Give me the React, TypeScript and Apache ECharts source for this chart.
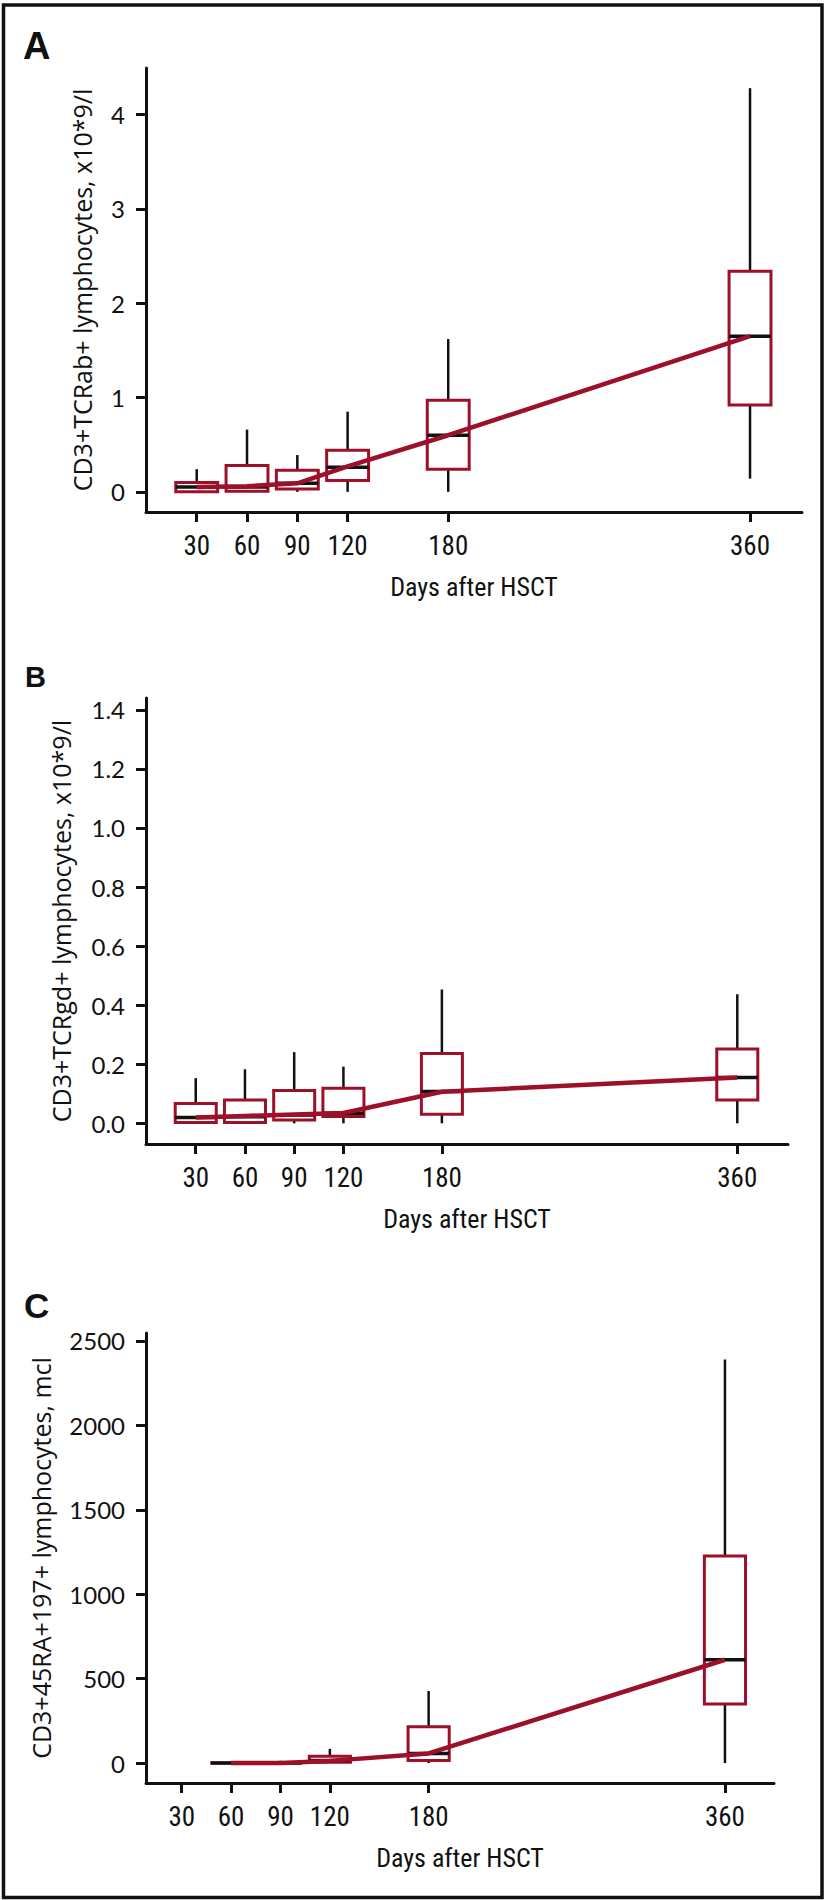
import React, { useEffect, useRef } from "react";
import * as echarts from "echarts";

// ---------- data ----------
const days = [30, 60, 90, 120, 180, 360];
const xTickValues = [30, 60, 90, 120, 180, 360];

// Panel A: CD3+TCRab+ lymphocytes, x10*9/l
const aMin = [0, 0, 0, 0, 0, 0.14];
const aQ1 = [0, 0.005, 0.03, 0.12, 0.24, 0.92];
const aMed = [0.05, 0.05, 0.09, 0.26, 0.6, 1.65];
const aQ3 = [0.1, 0.28, 0.23, 0.44, 0.97, 2.34];
const aMax = [0.24, 0.66, 0.39, 0.85, 1.62, 4.28];
const aTrend = [0.05, 0.06, 0.09, 0.27, 0.6, 1.65];
const aTicks = [0, 1, 2, 3, 4];

// Panel B: CD3+TCRgd+ lymphocytes, x10*9/l
const bMin = [0, 0, 0, 0, 0, 0];
const bQ1 = [0.003, 0.003, 0.011, 0.023, 0.031, 0.079];
const bMed = [0.02, 0.022, 0.028, 0.034, 0.108, 0.155];
const bQ3 = [0.067, 0.079, 0.111, 0.119, 0.236, 0.252];
const bMax = [0.153, 0.183, 0.241, 0.192, 0.453, 0.437];
const bTrend = [0.02, 0.025, 0.03, 0.035, 0.107, 0.155];
const bTicks = [0, 0.2, 0.4, 0.6, 0.8, 1.0, 1.2, 1.4];

// Panel C: CD3+45RA+197+ lymphocytes, mcl
const cMin = [null, 0, 0, 0, 0, 0];
const cQ1 = [null, 0, 0, 5, 15, 350];
const cMed = [null, 0, 0, 15, 57, 612];
const cQ3 = [null, 0, 3, 40, 215, 1227];
const cMax = [null, 0, 14, 84, 427, 2390];
const cTrend = [null, 0, 0, 13, 57, 612];
const cTicks = [0, 500, 1000, 1500, 2000, 2500];

const panelLetters = ["A", "B", "C"];
const yTitles = [
  "CD3+TCRab+ lymphocytes, x10*9/l",
  "CD3+TCRgd+ lymphocytes, x10*9/l",
  "CD3+45RA+197+ lymphocytes, mcl",
];
const xTitle = "Days after HSCT";

// ---------- styles ----------
const RED = "#9C1029";
const BLACK = "#111111";
const NARROW = "'Liberation Sans Narrow', 'Roboto Condensed', 'DejaVu Sans Condensed', 'Liberation Sans', sans-serif";
const LABELFONT = "Lato, 'Liberation Sans', sans-serif";
const TITLEFONT = "'Open Sans', Lato, sans-serif";

const boxRows = (mn: any[], q1: any[], md: any[], q3: any[], mx: any[]) =>
  days
    .map((d, i) => [d, mn[i], q1[i], md[i], q3[i], mx[i]])
    .filter((r) => r[1] !== null);

const trendRows = (t: any[]) =>
  days.map((d, i) => [d, t[i]]).filter((r) => r[1] !== null);

const HALF = 12.5;

const renderBox = (params: any, api: any) => {
  const x = api.value(0);
  const mn = api.value(1);
  const q1 = api.value(2);
  const md = api.value(3);
  const q3 = api.value(4);
  const mx = api.value(5);
  const pMin = api.coord([x, mn]);
  const pQ1 = api.coord([x, q1]);
  const pQ3 = api.coord([x, q3]);
  const pMax = api.coord([x, mx]);
  const tl = api.coord([x - HALF, q3]);
  const br = api.coord([x + HALF, q1]);
  const mL = api.coord([x - HALF, md]);
  const mR = api.coord([x + HALF, md]);
  return {
    type: "group",
    children: [
      {
        type: "line",
        shape: { x1: pQ3[0], y1: pQ3[1], x2: pMax[0], y2: pMax[1] },
        style: { stroke: BLACK, lineWidth: 2.5 },
      },
      {
        type: "line",
        shape: { x1: pMin[0], y1: pMin[1], x2: pQ1[0], y2: pQ1[1] },
        style: { stroke: BLACK, lineWidth: 2.5 },
      },
      {
        type: "rect",
        shape: { x: tl[0], y: tl[1], width: br[0] - tl[0], height: br[1] - tl[1] },
        style: { fill: "#ffffff", stroke: RED, lineWidth: 3 },
      },
      {
        type: "line",
        shape: { x1: mL[0], y1: mL[1], x2: mR[0], y2: mR[1] },
        style: { stroke: BLACK, lineWidth: 3.5 },
      },
    ],
  };
};

const grids = [
  { left: 146, top: 68, width: 656, height: 444 },
  { left: 146, top: 698, width: 642, height: 446 },
  { left: 146, top: 1333, width: 628, height: 450 },
];
const xRanges = [
  [-0.25, 391],
  [-0.3, 390.9],
  [8.3, 389.8],
];
const yRanges = [
  [-0.214, 4.494],
  [-0.07, 1.44],
  [-118, 2547],
];
const yTickSets = [aTicks, bTicks, cTicks];
const yNameGaps = [52, 73, 93];
const yFormatters = [
  (v: number) => String(Math.round(v)),
  (v: number) => v.toFixed(1),
  (v: number) => String(Math.round(v)),
];
const letterPos = [
  { x: 23, y: 45.5, size: 38 },
  { x: 25, y: 676.5, size: 29 },
  { x: 24, y: 1305.5, size: 35 },
];

export default function App() {
  const ref = useRef<HTMLDivElement>(null);
  useEffect(() => {
    if (!ref.current) return;
    const chart = echarts.init(ref.current, undefined, { renderer: "svg" });

    const xAxis = grids.map((_, i) => ({
      type: "value",
      gridIndex: i,
      min: xRanges[i][0],
      max: xRanges[i][1],
      name: xTitle,
      nameLocation: "middle",
      nameGap: 62,
      nameTextStyle: { fontFamily: NARROW, fontSize: 26, color: BLACK },
      axisLine: { show: true, onZero: false, lineStyle: { color: BLACK, width: 3 } },
      axisTick: { show: true, length: 10, customValues: xTickValues, lineStyle: { color: BLACK, width: 3 } },
      axisLabel: {
        show: true,
        customValues: xTickValues,
        margin: 20,
        fontFamily: NARROW,
        fontSize: 27,
        color: BLACK,
      },
      splitLine: { show: false },
    }));

    const yAxis = grids.map((_, i) => ({
      type: "value",
      gridIndex: i,
      min: yRanges[i][0],
      max: yRanges[i][1],
      name: yTitles[i],
      nameLocation: "middle",
      nameGap: yNameGaps[i],
      nameTextStyle: { fontFamily: TITLEFONT, fontSize: 25, color: BLACK },
      axisLine: { show: true, onZero: false, lineStyle: { color: BLACK, width: 3 } },
      axisTick: { show: true, length: 10, customValues: yTickSets[i], lineStyle: { color: BLACK, width: 3 } },
      axisLabel: {
        show: true,
        customValues: yTickSets[i],
        margin: 21,
        fontFamily: LABELFONT,
        fontSize: 24,
        color: BLACK,
        formatter: yFormatters[i],
      },
      splitLine: { show: false },
    }));

    const boxSets = [
      boxRows(aMin, aQ1, aMed, aQ3, aMax),
      boxRows(bMin, bQ1, bMed, bQ3, bMax),
      boxRows(cMin, cQ1, cMed, cQ3, cMax),
    ];
    const trendSets = [trendRows(aTrend), trendRows(bTrend), trendRows(cTrend)];

    const series: any[] = [];
    grids.forEach((_, i) => {
      series.push({
        type: "custom",
        xAxisIndex: i,
        yAxisIndex: i,
        renderItem: renderBox,
        encode: { x: 0, y: [1, 2, 3, 4, 5] },
        data: boxSets[i],
        z: 2,
        silent: true,
      });
      series.push({
        type: "line",
        xAxisIndex: i,
        yAxisIndex: i,
        data: trendSets[i],
        showSymbol: false,
        symbol: "none",
        lineStyle: { color: RED, width: 4.5 },
        z: 5,
        silent: true,
      });
    });

    const graphic: any[] = [
      {
        type: "rect",
        shape: { x: 3.5, y: 5, width: 818.5, height: 1892.5 },
        style: { fill: "none", stroke: BLACK, lineWidth: 3.5 },
        silent: true,
      },
      ...panelLetters.map((t, i) => ({
        type: "text",
        x: letterPos[i].x,
        y: letterPos[i].y,
        style: {
          text: t,
          fontFamily: "'Liberation Sans', Arial, sans-serif",
          fontWeight: "bold",
          fontSize: letterPos[i].size,
          fill: BLACK,
          textAlign: "left",
          textVerticalAlign: "middle",
        },
        silent: true,
      })),
    ];

    chart.setOption({
      animation: false,
      backgroundColor: "#ffffff",
      grid: grids.map((g) => ({ ...g, containLabel: false })),
      xAxis,
      yAxis,
      series,
      graphic,
    });
    return () => chart.dispose();
  }, []);

  return (
    <div
      ref={ref}
      style={{ position: "absolute", left: 0, top: 0, width: 826, height: 1900 }}
    />
  );
}
